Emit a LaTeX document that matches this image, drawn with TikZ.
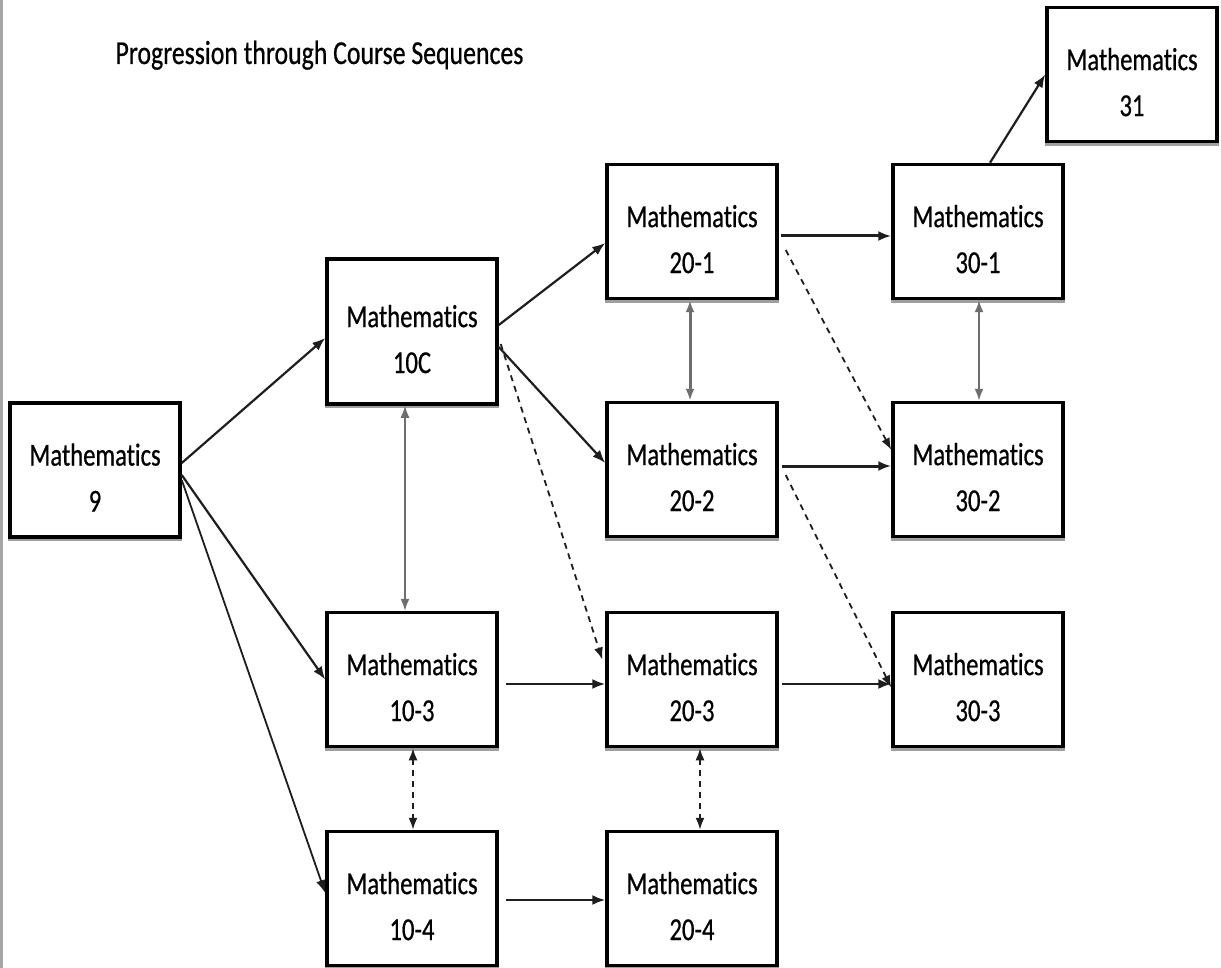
\documentclass[tikz,border=0pt]{standalone}
\usepackage{fontspec}
\setmainfont{Carlito}[FakeStretch=0.77, FakeBold=0.6, Ligatures=NoCommon]
\usetikzlibrary{arrows.meta}
\definecolor{lineblack}{HTML}{1E1E1E}
\definecolor{linegray}{HTML}{6E6E6E}
\newcommand\courselines[1]{\raisebox{-18pt}[0pt][0pt]{\begin{tabular}{@{}c@{}}Mathematics\\[12pt]#1\end{tabular}}}
\tikzset{
  course/.style={draw=black, line width=3.5pt, fill=white, inner sep=0pt,
    minimum width=170pt, minimum height=134pt,
    preaction={draw=gray!75, line width=3.5pt, transform canvas={yshift=-2.5pt}},
    font=\fontsize{32}{34}\selectfont},
  link/.style={draw=lineblack, line width=2.2pt, -{Latex[length=13pt,width=10pt]}},
  duallink/.style={draw=linegray, line width=2pt, {Latex[length=12pt,width=9pt]}-{Latex[length=12pt,width=9pt]}},
  dashlink/.style={draw=lineblack, line width=1.8pt, dash pattern=on 6pt off 5pt, -{Latex[length=12pt,width=9pt]}},
  dashdual/.style={draw=lineblack, line width=1.8pt, dash pattern=on 6pt off 5pt, {Latex[length=12pt,width=9pt]}-{Latex[length=12pt,width=9pt]}},
}
\begin{document}
\begin{tikzpicture}[x=1pt,y=-1pt]
\useasboundingbox (0,0) rectangle (1221,968);
\fill[white] (0,0) rectangle (1221,968);
\draw[gray!70, line width=2.5pt] (1.25,0) -- (1.25,968);

\node[anchor=base west, font=\fontsize{33.5}{40}\selectfont] (title) at (112,64) {Progression through Course Sequences};

\node[course] (m9) at (95,470) {\courselines{9}};
\node[course, minimum height=145pt] (m10C) at (412,331.5) {\courselines{10C}};
\node[course] (m103) at (412,679.5) {\courselines{10-3}};
\node[course] (m104) at (412,898.5) {\courselines{10-4}};
\node[course] (m201) at (692,231.5) {\courselines{20-1}};
\node[course] (m202) at (692,469.5) {\courselines{20-2}};
\node[course] (m203) at (692,679.5) {\courselines{20-3}};
\node[course] (m204) at (692,898.5) {\courselines{20-4}};
\node[course] (m301) at (978,231.5) {\courselines{30-1}};
\node[course] (m302) at (978,469.5) {\courselines{30-2}};
\node[course] (m303) at (978,679.5) {\courselines{30-3}};
\node[course] (m31) at (1132,74.5) {\courselines{31}};

% from Mathematics 9
\draw[link] ([yshift=7pt]m9.east) -- ([yshift=-6.5pt]m10C.west);
\draw[link] ([yshift=-5pt]m9.east) -- (m103.west);
\draw[link, line width=1.8pt] ([yshift=-10pt]m9.east) -- ([yshift=5.5pt]m104.west);

% from 10C
\draw[duallink, line width=1.6pt] ([xshift=-7pt]m10C.south) -- ([xshift=-7pt]m103.north);
\draw[link] ([yshift=6.5pt]m10C.east) -- ([yshift=-11.5pt]m201.west);
\draw[link] ([yshift=-15.5pt]m10C.east) -- ([yshift=6.5pt]m202.west);
\draw[dashlink] ([shift={(2pt,-12.5pt)}]m10C.east) -- ([shift={(-3pt,20pt)}]m203.west);

% level 10 bottom
\draw[dashdual] ([xshift=1pt]m103.south) -- ([xshift=1pt]m104.north);
\draw[link] ([shift={(7pt,-4.5pt)}]m103.east) -- ([yshift=-4.5pt]m203.west);
\draw[link] ([shift={(7pt,-1.5pt)}]m104.east) -- ([yshift=-1.5pt]m204.west);

% level 20
\draw[duallink, line width=3pt] ([xshift=-2pt]m201.south) -- ([xshift=-2pt]m202.north);
\draw[link, line width=3pt] ([shift={(2pt,-4.5pt)}]m201.east) -- ([yshift=-4.5pt]m301.west);
\draw[dashlink] ([shift={(7pt,-18.5pt)}]m201.east) -- ([yshift=19.5pt]m302.west);
\draw[link, line width=3pt] ([shift={(3pt,3.5pt)}]m202.east) -- ([yshift=3.5pt]m302.west);
\draw[dashlink] ([shift={(7pt,-5.5pt)}]m202.east) -- ([yshift=-8pt]m303.west);
\draw[dashdual] ([xshift=8pt]m203.south) -- ([xshift=8pt]m204.north);
\draw[link] ([shift={(3pt,-4.5pt)}]m203.east) -- ([yshift=-4.5pt]m303.west);

% level 30
\draw[duallink] ([xshift=1pt]m301.south) -- ([xshift=1pt]m302.north);
\draw[link] ([xshift=12pt]m301.north) -- (m31.west);
\end{tikzpicture}
\end{document}
